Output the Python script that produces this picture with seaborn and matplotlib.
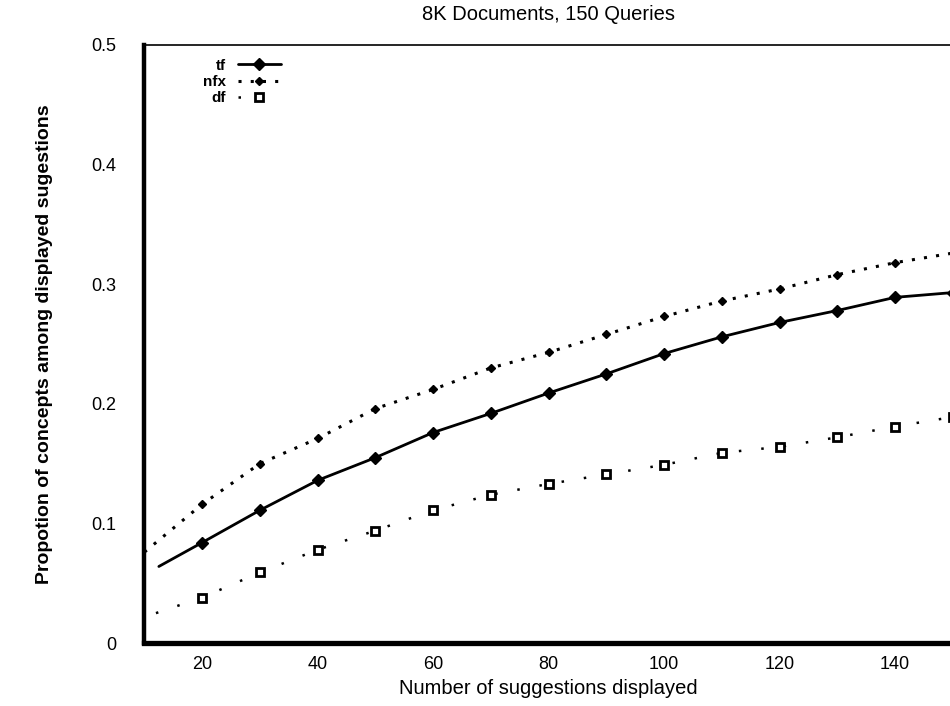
import matplotlib
matplotlib.use('Agg')
import matplotlib.pyplot as plt
import seaborn as sns
import pandas as pd

# values
n_shown = [20, 30, 40, 50, 60, 70, 80, 90, 100, 110, 120, 130, 140, 150]
tf_vals = [0.084, 0.111, 0.136, 0.155, 0.176, 0.192, 0.209, 0.225, 0.242, 0.256, 0.268, 0.278, 0.289, 0.293]
nfx_vals = [0.116, 0.150, 0.171, 0.196, 0.212, 0.230, 0.243, 0.258, 0.273, 0.286, 0.296, 0.308, 0.318, 0.326]
df_vals = [0.038, 0.059, 0.078, 0.094, 0.111, 0.124, 0.133, 0.141, 0.149, 0.159, 0.164, 0.172, 0.181, 0.189]

# where each curve starts near the y axis (no marker there)
tf_start = (12.5, 0.064)
nfx_start = (10, 0.076)
df_start = (12, 0.025)

y_ticks = [0, 0.1, 0.2, 0.3, 0.4, 0.5]
y_labels = ['0', '0.1', '0.2', '0.3', '0.4', '0.5']
x_ticks = [20, 40, 60, 80, 100, 120, 140]


def make_df(start, vals):
    return pd.DataFrame({'n': [start[0]] + n_shown, 'p': [start[1]] + vals})


tf = make_df(tf_start, tf_vals)
nfx = make_df(nfx_start, nfx_vals)
dfr = make_df(df_start, df_vals)

sns.set_style('white')
plt.rcParams['font.family'] = ['Liberation Sans', 'DejaVu Sans']
plt.rcParams['text.color'] = 'black'
plt.rcParams['axes.labelcolor'] = 'black'
plt.rcParams['xtick.color'] = 'black'
plt.rcParams['ytick.color'] = 'black'

fig = plt.figure(figsize=(9.5, 7.06), dpi=100)
ax = fig.add_axes([0.152, 0.0892, 0.851, 0.8471])

sns.lineplot(data=tf, x='n', y='p', ax=ax, color='black', lw=2.0,
             marker='D', markersize=6.5, markeredgecolor='black', markeredgewidth=1,
             markevery=list(range(1, len(tf))), label='tf')
sns.lineplot(data=nfx, x='n', y='p', ax=ax, color='black', lw=2.2, linestyle=(0, (1, 3)),
             marker='D', markersize=4.5, markeredgecolor='black', markeredgewidth=1,
             markevery=list(range(1, len(nfx))), label='nfx')
sns.lineplot(data=dfr, x='n', y='p', ax=ax, color='black', lw=1.8, linestyle=(0, (1, 8)),
             marker='s', markersize=6, markerfacecolor='white', markeredgecolor='black',
             markeredgewidth=2, markevery=list(range(1, len(dfr))), label='df')

ax.set_xlim(10, 150)
ax.set_ylim(0, 0.5)
ax.set_xticks(x_ticks)
ax.set_yticks(y_ticks)
ax.set_yticklabels(y_labels)
ax.tick_params(axis='both', length=0, labelsize=13)
ax.tick_params(axis='y', pad=20)
ax.tick_params(axis='x', pad=9)

ax.spines['left'].set_linewidth(3.2)
ax.spines['bottom'].set_linewidth(3.8)
ax.spines['top'].set_linewidth(1.2)
ax.spines['right'].set_visible(False)
for s in ax.spines.values():
    s.set_color('black')

ax.set_title('8K Documents, 150 Queries', fontsize=14.5, pad=18)
ax.set_xlabel('Number of suggestions displayed', fontsize=14.5, labelpad=5)
ax.set_ylabel('Propotion of concepts among displayed sugestions', fontsize=14,
              fontweight='bold', labelpad=28)

leg = ax.legend(loc='upper left', bbox_to_anchor=(0.055, 1.0), frameon=False,
                markerfirst=False, fontsize=11, handlelength=2.8,
                labelspacing=0.15, borderaxespad=0.5)
for t in leg.get_texts():
    t.set_fontweight('bold')

fig.savefig('out.png', dpi=100)
